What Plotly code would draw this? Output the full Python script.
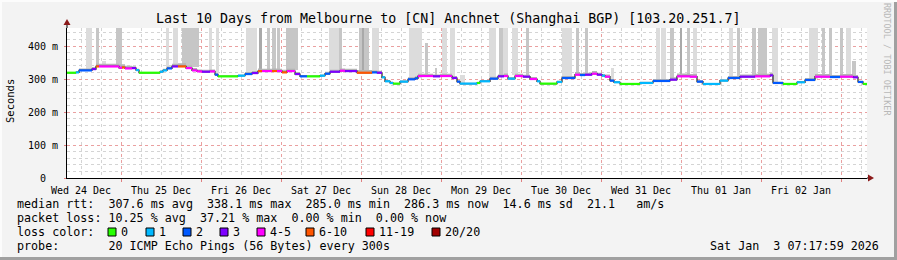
import numpy as np
import plotly.graph_objects as go
from datetime import datetime, timedelta

# ---------------- data ----------------
# median segments: start (hours since 2025-12-24 00:00), median rtt (ms), lost pings of 20
seg_h = [7.8, 10.5, 11.4, 15.3, 16.5, 17.4, 23.4, 24.3, 25.2, 27.3,
         28.5, 29.4, 35.7, 36.6, 37.8, 39.3, 41.1, 43.5, 45.3, 46.8,
         48.3, 50.7, 52.2, 53.1, 59.1, 61.2, 63.3, 65.1, 66.3, 69.3,
         70.8, 72.3, 73.8, 76.2, 77.7, 79.8, 83.7, 85.2, 86.7, 89.7,
         91.2, 94.8, 99.3, 100.8, 102.3, 103.2, 104.7, 105.6, 107.7, 110.1,
         112.2, 113.1, 117.6, 119.7, 123.3, 124.8, 125.7, 130.8, 131.7, 134.7,
         137.1, 138.9, 140.1, 142.2, 144.6, 146.7, 148.8, 149.7, 154.8, 156.3,
         160.2, 161.7, 163.2, 165.3, 166.8, 168.3, 169.2, 170.7, 171.9, 173.7,
         179.7, 183.6, 188.7, 190.8, 194.7, 196.8, 198.6, 203.7, 206.1, 209.7,
         214.2, 218.7, 219.6, 222.6, 226.8, 229.2, 232.2, 236.7, 239.7, 243.6,
         245.1, 246.6]
end_h = 247.8
seg_ms = [319, 320, 326, 330, 338, 338, 334, 335, 332, 333,
          327, 319, 322, 326, 332, 338, 338, 333, 326, 323,
          322, 323, 313, 308, 310, 315, 318, 324, 324, 324,
          324, 320, 324, 315, 308, 308, 310, 316, 322, 325,
          324, 319, 320, 319, 305, 293, 288, 286, 292, 299,
          302, 309, 308, 309, 303, 292, 286, 288, 293, 301,
          308, 309, 301, 309, 307, 300, 293, 286, 291, 303,
          313, 312, 313, 316, 313, 310, 307, 295, 290, 285,
          288, 294, 298, 308, 307, 292, 285, 295, 303, 307,
          308, 311, 288, 285, 290, 297, 307, 306, 307, 305,
          291, 285]
seg_loss = [0, 1, 2, 3, 7, 4, 4, 7, 4, 3,
            1, 0, 1, 1, 2, 3, 7, 4, 4, 4,
            3, 4, 2, 0, 1, 2, 3, 7, 4, 7,
            4, 7, 4, 3, 2, 0, 1, 2, 3, 4,
            3, 7, 2, 3, 1, 1, 1, 0, 1, 2,
            2, 4, 3, 4, 3, 2, 1, 0, 1, 2,
            3, 4, 1, 4, 3, 4, 1, 0, 1, 2,
            4, 2, 3, 4, 3, 1, 4, 2, 1, 0,
            1, 2, 3, 4, 4, 2, 1, 1, 2, 3,
            4, 3, 2, 0, 1, 2, 4, 2, 4, 3,
            2, 0]
# smoke spread above the median (ms)
seg_up = [2, 4, 6, 6, 8, 8, 10, 10, 8, 6,
          4, 2, 4, 5, 6, 8, 10, 8, 7, 6,
          6, 6, 5, 2, 4, 6, 6, 8, 7, 8,
          7, 8, 7, 6, 4, 2, 4, 6, 6, 7,
          7, 8, 6, 6, 4, 4, 4, 2, 4, 6,
          6, 7, 6, 7, 6, 4, 3, 2, 4, 6,
          6, 8, 5, 7, 6, 6, 4, 2, 4, 6,
          8, 6, 6, 8, 6, 5, 7, 5, 4, 2,
          4, 6, 7, 9, 8, 5, 3, 4, 6, 7,
          8, 7, 4, 2, 4, 6, 8, 6, 8, 7,
          4, 2]
# tall smoke bars: start/end (hours since 2025-12-24 00:00), top (ms), shade 0..2
spike_h0 = [13.5, 16.5, 18.3, 22.5, 37.5, 39.6, 42.3, 50.4, 52.5, 61.5,
            65.4, 67.8, 69.3, 70.8, 73.5, 86.4, 89.4, 95.4, 96.3, 99.3,
            110.4, 115.2, 118.2, 120.3, 122.7, 125.7, 134.4, 137.4, 138.6, 141.3,
            145.5, 156.3, 160.5, 163.2, 171.0, 184.5, 186.0, 188.7, 191.7, 193.8,
            195.6, 206.4, 208.8, 213.3, 215.1, 219.3, 230.4, 234.3, 236.4, 239.7,
            241.5, 243.3]
spike_h1 = [15.3, 17.4, 19.5, 24.3, 38.4, 41.1, 47.4, 51.3, 53.4, 64.8,
            66.3, 68.7, 70.5, 71.7, 77.1, 89.4, 90.3, 98.4, 96.9, 101.4,
            114.3, 116.1, 118.8, 121.8, 124.2, 127.2, 136.5, 138.6, 140.1, 143.1,
            146.4, 159.3, 161.4, 164.1, 171.9, 185.7, 187.5, 189.9, 192.3, 194.7,
            196.8, 207.6, 209.7, 214.5, 217.8, 221.1, 233.1, 235.2, 237.3, 240.6,
            243.0, 244.5]
spike_top = [460, 460, 354, 460, 460, 460, 460, 460, 460, 460,
             460, 460, 460, 460, 460, 460, 460, 460, 460, 460,
             460, 409, 333, 460, 460, 312, 460, 460, 460, 460,
             460, 460, 460, 460, 333, 460, 460, 460, 460, 460,
             460, 460, 460, 460, 460, 460, 460, 460, 460, 460,
             460, 354]
spike_shade = [0, 1, 0, 1, 0, 0, 1, 0, 0, 0,
               2, 1, 1, 1, 1, 0, 1, 1, 2, 0,
               0, 1, 1, 0, 0, 0, 0, 1, 0, 0,
               1, 0, 1, 1, 0, 0, 0, 1, 2, 1,
               0, 0, 1, 1, 1, 0, 0, 1, 1, 1,
               0, 1]

loss_labels = ["0", "1", "2", "3", "4-5", "6-10", "11-19", "20/20"]
loss_colors = ["#26ff00", "#00b8ff", "#0059ff", "#7e00ff", "#ff00ff",
               "#ff5500", "#ff0000", "#a10000"]
y_ticks = [0, 100, 200, 300, 400]
y_ticktext = ["0\u00a0\u00a0", "100 m", "200 m", "300 m", "400 m"]

title = "Last 10 Days from Melbourne to [CN] Anchnet (Shanghai BGP) [103.20.251.7]"
legend_lines = [
    "median rtt:  307.6 ms avg  338.1 ms max  285.0 ms min  286.3 ms now  14.6 ms sd  21.1   am/s",
    "packet loss: 10.25 % avg  37.21 % max  0.00 % min  0.00 % now",
    "loss color:",
    "probe:       20 ICMP Echo Pings (56 Bytes) every 300s",
]
stamp = "Sat Jan  3 07:17:59 2026"

# ---------------- helpers ----------------
BASE = datetime(2025, 12, 24)
def T(h):
    return BASE + timedelta(hours=h)

W, H = 897, 260
L, R, TOP, BOT = 67, 867, 28, 178
def px(x):
    return (x - L) / (R - L)
def py(y):
    return (BOT - y) / (BOT - TOP)

def loss_class(n):
    if n <= 3:
        return n
    if n <= 5:
        return 4
    if n <= 10:
        return 5
    if n <= 19:
        return 6
    return 7

FONT = "DejaVu Sans Mono"
nb = lambda s: s.replace(" ", "\u00a0")

seg_end = seg_h[1:] + [end_h]
fig = go.Figure()

# smoke band
xs = [T(h) for h in seg_h] + [T(end_h)]
lo = [v - 2 for v in seg_ms] + [seg_ms[-1] - 2]
hi = [v + u for v, u in zip(seg_ms, seg_up)] + [seg_ms[-1] + seg_up[-1]]
fig.add_trace(go.Scatter(x=xs, y=lo, mode="lines", line=dict(width=0, shape="hv"),
                         hoverinfo="skip", showlegend=False))
fig.add_trace(go.Scatter(x=xs, y=hi, mode="lines", line=dict(width=0, shape="hv"),
                         fill="tonexty", fillcolor="#b4b4b4", hoverinfo="skip",
                         showlegend=False))

# tall smoke bars
shade_cols = ["#dcdcdc", "#c6c6c6", "#a9a9a9"]
sh = np.array(seg_h)
for s in range(3):
    bx, bw, bb, by = [], [], [], []
    for h0, h1, top, sd in zip(spike_h0, spike_h1, spike_top, spike_shade):
        if sd != s:
            continue
        mid = 0.5 * (h0 + h1)
        i = int(np.searchsorted(sh, mid, side="right") - 1)
        base = seg_ms[i] + 2
        bx.append(T(mid))
        bw.append((h1 - h0) * 3600 * 1000)
        bb.append(base)
        by.append(top - base)
    fig.add_trace(go.Bar(x=bx, y=by, base=bb, width=bw, marker=dict(color=shade_cols[s], line=dict(width=0)),
                         hoverinfo="skip", showlegend=False))

# median step line (dark transitions)
fig.add_trace(go.Scatter(x=xs, y=list(seg_ms) + [seg_ms[-1]], mode="lines",
                         line=dict(color="#222222", width=1.2, shape="hv"),
                         hoverinfo="skip", showlegend=False))
# loss-coloured median segments
for c in range(8):
    cx, cy = [], []
    for h0, h1, v, n in zip(seg_h, seg_end, seg_ms, seg_loss):
        if loss_class(n) == c:
            cx += [T(h0), T(h1), None]
            cy += [v, v, None]
    if cx:
        fig.add_trace(go.Scatter(x=cx, y=cy, mode="lines",
                                 line=dict(color=loss_colors[c], width=2.2),
                                 hoverinfo="skip", showlegend=False))

# ---------------- layout ----------------
shapes = []
ann = []
# 3D frame
shapes.append(dict(type="rect", xref="paper", yref="paper", x0=px(0), x1=px(W), y0=py(257), y1=py(H),
                   fillcolor="#a0a0a0", line=dict(width=0), layer="below"))
shapes.append(dict(type="rect", xref="paper", yref="paper", x0=px(894), x1=px(W), y0=py(0), y1=py(H),
                   fillcolor="#a0a0a0", line=dict(width=0), layer="below"))
shapes.append(dict(type="rect", xref="paper", yref="paper", x0=px(0), x1=px(W), y0=py(0), y1=py(2),
                   fillcolor="#fcfcfc", line=dict(width=0), layer="below"))
shapes.append(dict(type="rect", xref="paper", yref="paper", x0=px(0), x1=px(2), y0=py(0), y1=py(257),
                   fillcolor="#fcfcfc", line=dict(width=0), layer="below"))
# axis extensions + arrows
shapes.append(dict(type="line", xref="paper", yref="paper", x0=0, x1=0, y0=1, y1=py(22),
                   line=dict(color="#000000", width=1)))
shapes.append(dict(type="line", xref="paper", yref="paper", x0=1, x1=px(869), y0=0, y1=0,
                   line=dict(color="#000000", width=1)))
shapes.append(dict(type="path", xref="paper", yref="paper",
                   path=f"M {px(63.5)} {py(25)} L {px(70.5)} {py(25)} L {px(67)} {py(19)} Z",
                   fillcolor="#8b1a1a", line=dict(width=0)))
shapes.append(dict(type="path", xref="paper", yref="paper",
                   path=f"M {px(868)} {py(174.5)} L {px(868)} {py(181.5)} L {px(874)} {py(178)} Z",
                   fillcolor="#8b1a1a", line=dict(width=0)))

# title
ann.append(dict(text=nb(title), x=px(448), y=py(19), xref="paper", yref="paper",
                showarrow=False, xanchor="center", yanchor="middle",
                font=dict(family=FONT, size=13.3, color="#000000")))
# axis title
ann.append(dict(text="Seconds", x=px(10), y=py(101), xref="paper", yref="paper", textangle=-90,
                showarrow=False, xanchor="center", yanchor="middle",
                font=dict(family=FONT, size=10.5, color="#000000")))
ann.append(dict(text=nb("RRDTOOL / TOBI OETIKER"), x=px(887), y=py(60), xref="paper", yref="paper",
                textangle=90, showarrow=False, xanchor="center", yanchor="middle",
                font=dict(family=FONT, size=8.5, color="#b8b8b8")))
# legend lines
for k, (line, yy) in enumerate(zip(legend_lines, [204, 218, 232, 246])):
    ann.append(dict(text=nb(line), x=px(16), y=py(yy), xref="paper", yref="paper", showarrow=False,
                    xanchor="left", yanchor="middle", borderpad=0,
                    font=dict(family=FONT, size=11.7, color="#000000")))
ann.append(dict(text=nb(stamp), x=px(880), y=py(246), xref="paper", yref="paper", showarrow=False,
                xanchor="right", yanchor="middle", borderpad=0,
                font=dict(family=FONT, size=11.7, color="#000000")))
box_x = [108, 146, 183, 220, 257, 306, 366, 432]
for bxp, lab, col in zip(box_x, loss_labels, loss_colors):
    shapes.append(dict(type="rect", xref="paper", yref="paper", x0=px(bxp), x1=px(bxp + 8),
                       y0=py(236), y1=py(228), fillcolor=col, line=dict(color="#000000", width=1)))
    ann.append(dict(text=nb(lab), x=px(bxp + 12), y=py(232), xref="paper", yref="paper",
                    showarrow=False, xanchor="left", yanchor="middle", borderpad=0,
                    font=dict(family=FONT, size=11.7, color="#000000")))

fig.update_layout(
    width=W, height=H,
    margin=dict(l=L, r=W - R, t=TOP, b=H - BOT, pad=0),
    paper_bgcolor="#f3f3f3", plot_bgcolor="#ffffff",
    barmode="overlay", bargap=0,
    showlegend=False,
    shapes=shapes, annotations=ann,
    xaxis=dict(
        type="date", range=[T(7.8), T(247.8)],
        dtick=86400000, tick0="2025-12-24", tickformat="%a %d %b",
        ticklabelmode="period",
        showgrid=True, gridcolor="#eaa0a0", griddash="dot", gridwidth=1,
        minor=dict(dtick=21600000, tick0="2025-12-24", showgrid=True,
                   gridcolor="#d4d4d4", griddash="dot", gridwidth=1),
        ticks="outside", ticklen=3, tickcolor="#e08080",
        showline=True, linecolor="#000000", linewidth=1,
        zeroline=False,
        tickfont=dict(family=FONT, size=10, color="#000000"),
        fixedrange=True,
    ),
    yaxis=dict(
        range=[0, 150 / 0.33],
        tickvals=y_ticks, ticktext=y_ticktext,
        showgrid=True, gridcolor="#eaa0a0", griddash="dot", gridwidth=1,
        minor=dict(dtick=20, showgrid=True, gridcolor="#d4d4d4", griddash="dot", gridwidth=1),
        ticks="outside", ticklen=2, tickcolor="#e08080",
        ticklabelstandoff=4,
        showline=True, linecolor="#000000", linewidth=1,
        zeroline=False,
        tickfont=dict(family=FONT, size=10, color="#000000"),
        fixedrange=True,
    ),
)

fig.write_html("out.html")
